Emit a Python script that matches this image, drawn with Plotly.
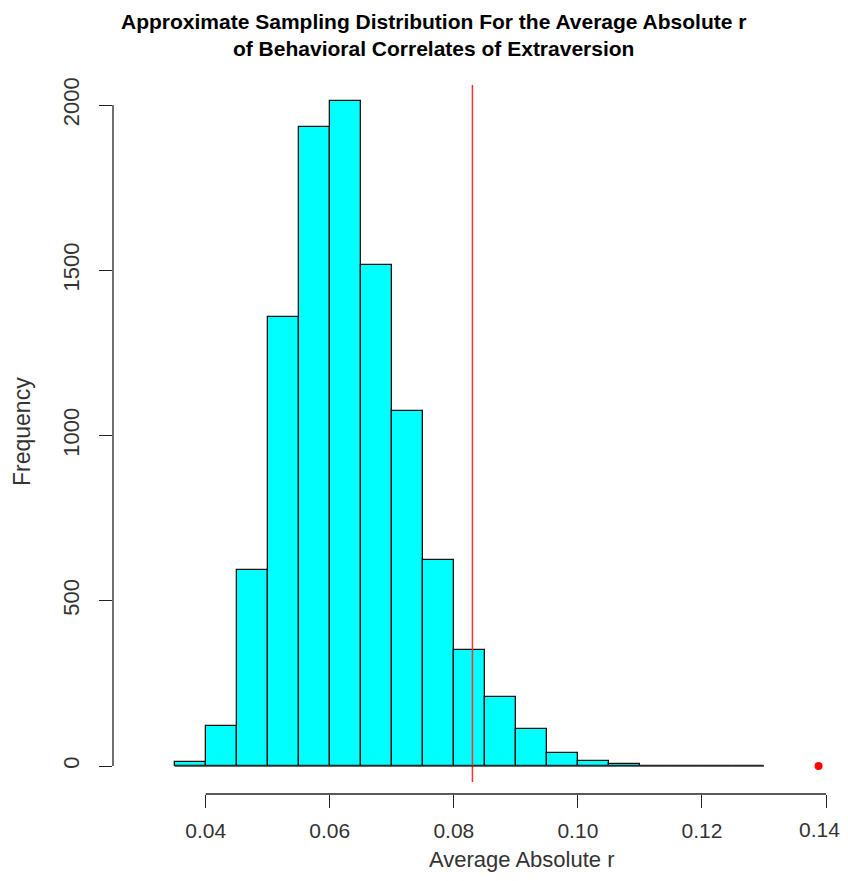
import plotly.graph_objects as go

# Histogram bins (left edges) and counts
bin_left = [0.035, 0.040, 0.045, 0.050, 0.055, 0.060, 0.065, 0.070, 0.075, 0.080,
            0.085, 0.090, 0.095, 0.100, 0.105, 0.110, 0.115, 0.120, 0.125]
counts = [13, 122, 593, 1359, 1932, 2012, 1517, 1075, 623, 351,
          208, 111, 38, 16, 7, 1, 1, 1, 1]
bin_width = 0.005

observed_r = 0.0830      # red vertical line
outlier_x = [0.1388]     # red point
outlier_y = [0]

x_ticks = [0.04, 0.06, 0.08, 0.10, 0.12, 0.14]
x_tick_text = ["0.04", "0.06", "0.08", "0.10", "0.12", "0.14"]
y_ticks = [0, 500, 1000, 1500, 2000]
y_tick_text = ["0", "500", "1000", "1500", "2000"]

FONT = "Liberation Sans, Arial, Helvetica, sans-serif"
OFF = 8                          # page body margin
PW, PH = 848, 881                # page size
W, H = PW - OFF, PH - 2 * OFF    # figure size (no page overflow)
# page-pixel geometry of the plot area
P_LEFT, P_RIGHT, P_TOP, P_BOTTOM = 113, 848, 80, 794
L = P_LEFT - OFF
R = (OFF + W) - P_RIGHT
T = P_TOP - OFF
B = (OFF + H) - P_BOTTOM

px_per_x = 6203.0
x0 = 0.04 - (205.7 - P_LEFT) / px_per_x
x1 = 0.04 + (P_RIGHT - 205.7) / px_per_x
px_per_y = 0.3305
y1 = (766 - P_TOP) / px_per_y
y0 = -(P_BOTTOM - 766) / px_per_y

plot_w = P_RIGHT - P_LEFT
plot_h = P_BOTTOM - P_TOP

fig = go.Figure()
fig.add_trace(go.Bar(
    x=[b + bin_width / 2 for b in bin_left], y=counts, width=bin_width,
    marker=dict(color="#00FFFF", line=dict(color="#111111", width=1.3)),
    showlegend=False, hoverinfo="x+y"))
fig.add_trace(go.Scatter(
    x=outlier_x, y=outlier_y, mode="markers",
    marker=dict(color="red", size=8), showlegend=False))

fig.add_shape(type="line", xref="x", yref="paper", x0=observed_r, x1=observed_r,
              y0=(P_BOTTOM - 782) / plot_h, y1=(P_BOTTOM - 85) / plot_h,
              line=dict(color="#FF3030", width=1.5))
# baseline of histogram through empty bins
fig.add_shape(type="line", xref="x", yref="y", x0=bin_left[0], x1=bin_left[-1] + bin_width,
              y0=0, y1=0, line=dict(color="#333333", width=1.3))
# R-style axis lines spanning only the tick range
fig.add_shape(type="line", xref="x", yref="paper", x0=x_ticks[0], x1=x_ticks[-1],
              y0=0, y1=0, line=dict(color="#222222", width=1.3))
fig.add_shape(type="line", xref="paper", yref="y", x0=0, x1=0,
              y0=y_ticks[0], y1=y_ticks[-1], line=dict(color="#222222", width=1.3))

# last x tick label nudged left so it is not clipped at the page edge
shown_x_text = x_tick_text[:-1] + [""]
tick_font = dict(size=21, color="#333333", family=FONT)

fig.update_layout(
    width=W, height=H,
    margin=dict(l=L, r=R, t=T, b=B),
    plot_bgcolor="white", paper_bgcolor="white",
    font=dict(family=FONT, color="#222222"),
    bargap=0,
    xaxis=dict(range=[x0, x1], tickmode="array", tickvals=x_ticks, ticktext=shown_x_text,
               ticks="outside", ticklen=13, tickwidth=1.3, tickcolor="#222222",
               showgrid=False, zeroline=False, showline=False,
               ticklabelstandoff=5, tickfont=tick_font),
    yaxis=dict(range=[y0, y1], tickmode="array", tickvals=y_ticks, ticktext=y_tick_text,
               ticks="outside", ticklen=13, tickwidth=1.3, tickcolor="#222222",
               tickangle=-90, showgrid=False, zeroline=False, showline=False,
               ticklabelstandoff=11,
               tickfont=dict(size=22, color="#333333")),
    annotations=[
        dict(text="<b>Approximate Sampling Distribution For the Average Absolute r<br>"
                  "of Behavioral Correlates of Extraversion</b>",
             xref="paper", yref="paper", x=(433 - P_LEFT) / plot_w, y=1,
             yshift=(P_TOP - 8), xanchor="center", yanchor="top", showarrow=False,
             font=dict(size=21, color="#000000", family=FONT)),
        dict(text=x_tick_text[-1], xref="x", yref="paper", x=x_ticks[-1], y=0,
             xshift=-7, yshift=-(816 - P_BOTTOM), xanchor="center", yanchor="top",
             showarrow=False, font=tick_font),
        dict(text="Average Absolute r", xref="paper", yref="paper",
             x=(522 - P_LEFT) / plot_w, y=0, yshift=-(845 - P_BOTTOM), xanchor="center",
             yanchor="top", showarrow=False,
             font=dict(size=22, color="#333333", family=FONT)),
        dict(text="Frequency", xref="paper", yref="paper", x=0, xshift=-(P_LEFT - 22),
             y=(P_BOTTOM - 432) / plot_h, textangle=-90, xanchor="center", yanchor="middle",
             showarrow=False, font=dict(size=23, color="#333333", family=FONT)),
    ],
)

fig.write_html("out.html")
